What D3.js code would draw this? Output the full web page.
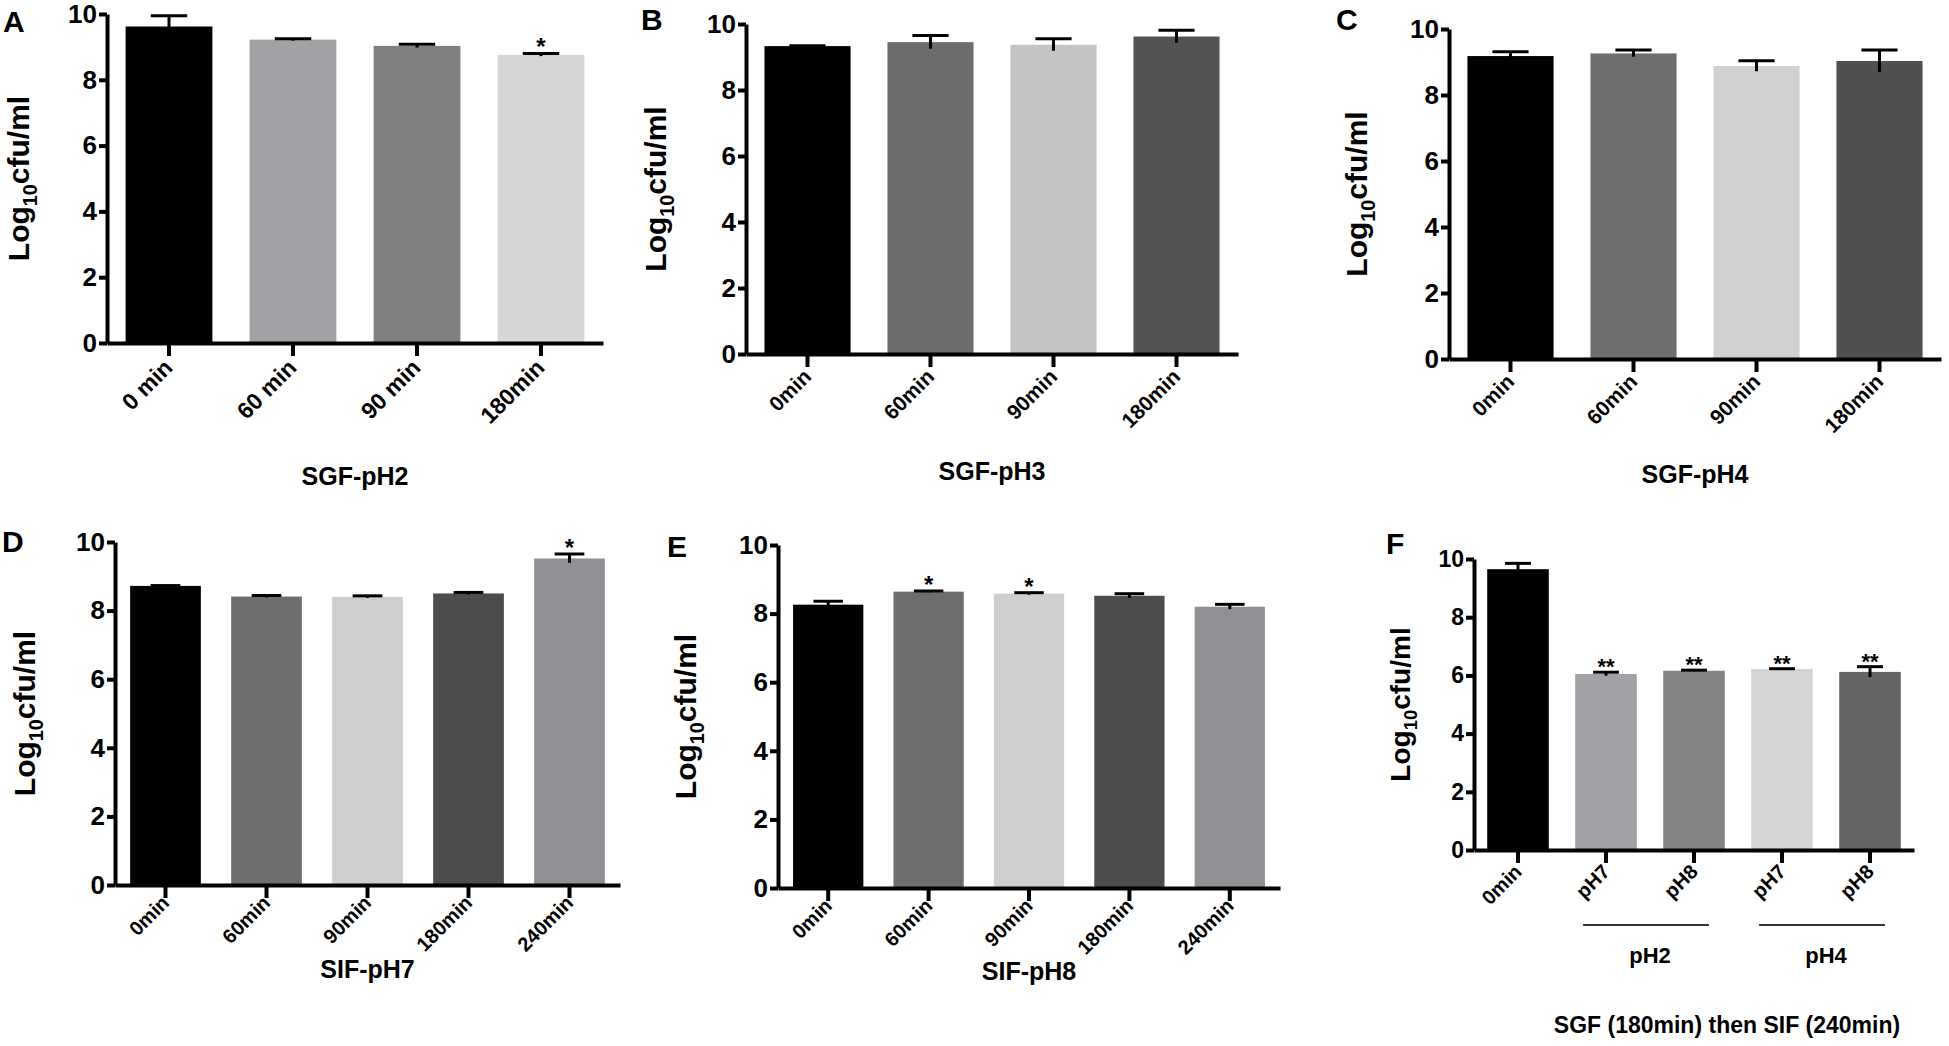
<!DOCTYPE html>
<html>
<head>
<meta charset="utf-8">
<script src="https://cdn.jsdelivr.net/npm/d3@7"></script>
<style>
	body { margin: 0; background: #fff; }
	text { font-family: "Liberation Sans", Arial, Helvetica, sans-serif; font-weight: bold; fill: #000; }
</style>
</head>
<body>
<svg id="chart" width="1949" height="1046"></svg>
<script>
// values (Log10 cfu/ml, mean and SD)
const catsA = ['0 min', '60 min', '90 min', '180min']
const meanA = [9.62, 9.22, 9.03, 8.76]
const sdA = [0.33, 0.03, 0.05, 0.04]
const sigA = ['', '', '', '*']

const catsB = ['0min', '60min', '90min', '180min']
const meanB = [9.33, 9.45, 9.37, 9.62]
const sdB = [0.01, 0.2, 0.18, 0.19]
const sigB = ['', '', '', '']

const catsC = ['0min', '60min', '90min', '180min']
const meanC = [9.18, 9.26, 8.88, 9.03]
const sdC = [0.13, 0.1, 0.16, 0.33]
const sigC = ['', '', '', '']

const catsD = ['0min', '60min', '90min', '180min', '240min']
const meanD = [8.72, 8.41, 8.4, 8.5, 9.52]
const sdD = [0.01, 0.03, 0.03, 0.03, 0.13]
const sigD = ['', '', '', '', '*']

const catsE = ['0min', '60min', '90min', '180min', '240min']
const meanE = [8.26, 8.64, 8.58, 8.52, 8.2]
const sdE = [0.1, 0.02, 0.03, 0.06, 0.07]
const sigE = ['', '*', '*', '', '']

const catsF = ['0min', 'pH7', 'pH8', 'pH7', 'pH8']
const meanF = [9.65, 6.05, 6.16, 6.22, 6.12]
const sdF = [0.2, 0.06, 0.02, 0.01, 0.18]
const sigF = ['', '**', '**', '**', '**']
const groupF = ['pH2', 'pH4']
const groupSpanF = [[1, 2], [3, 4]]

const yTicks = [0, 2, 4, 6, 8, 10]

// fills per panel
const fillsA = ['#000000', '#a2a2a6', '#808080', '#d6d6d6']
const fillsB = ['#000000', '#6d6d6d', '#c4c4c4', '#535353']
const fillsC = ['#000000', '#6f6f6f', '#d0d0d0', '#505050']
const fillsD = ['#000000', '#6e6e6e', '#cecece', '#4d4d4d', '#8f8f94']
const fillsF = ['#000000', '#a2a2a6', '#848484', '#d4d4d4', '#656565']

const svg = d3.select('#chart')

const panels = [
	{ letter: 'A', cats: catsA, mean: meanA, sd: sdA, sig: sigA, fills: fillsA, title: 'SGF-pH2',
		x0: 107, x1: 603, top: 14, zero: 343, titleY: 485, letterXY: [3, 32], labelOff: 78, catFont: 23, catY: 26 },
	{ letter: 'B', cats: catsB, mean: meanB, sd: sdB, sig: sigB, fills: fillsB, title: 'SGF-pH3',
		x0: 746, x1: 1238, top: 24, zero: 354, titleY: 480, letterXY: [641, 30], labelOff: 80, catFont: 21, catY: 24 },
	{ letter: 'C', cats: catsC, mean: meanC, sd: sdC, sig: sigC, fills: fillsC, title: 'SGF-pH4',
		x0: 1449, x1: 1941, top: 29, zero: 359, titleY: 483, letterXY: [1336, 30], labelOff: 82, catFont: 21, catY: 24 },
	{ letter: 'D', cats: catsD, mean: meanD, sd: sdD, sig: sigD, fills: fillsD, title: 'SIF-pH7',
		x0: 115, x1: 620, top: 542, zero: 885, titleY: 978, letterXY: [2, 552], labelOff: 80, catFont: 20, catY: 19 },
	{ letter: 'E', cats: catsE, mean: meanE, sd: sdE, sig: sigE, fills: fillsD, title: 'SIF-pH8',
		x0: 778, x1: 1280, top: 545, zero: 888, titleY: 980, letterXY: [667, 557], labelOff: 82, catFont: 20, catY: 19 },
	{ letter: 'F', cats: catsF, mean: meanF, sd: sdF, sig: sigF, fills: fillsF, title: null,
		x0: 1474, x1: 1914, top: 559, zero: 850, letterXY: [1386, 554], labelOff: 64, catFont: 20, catY: 23, small: true },
]

function drawPanel(p) {
	const g = svg.append('g').attr('class', `panel panel-${p.letter}`)
	const tickFont = p.small ? 23 : 26

	const x = d3.scaleBand()
		.domain(p.cats.map((d, i) => i))
		.range([p.x0, p.x1])
		.paddingInner(0.3)
		.paddingOuter(0.15)

	const y = d3.scaleLinear()
		.domain([0, 10])
		.range([p.zero, p.top])

	const bw = x.bandwidth()
	const capW = bw * 0.42

	// bars
	g.selectAll('.bar').data(p.mean)
		.enter().append('rect')
		.attr('class', 'bar')
		.attr('x', (d, i) => x(i))
		.attr('y', d => y(d))
		.attr('width', bw)
		.attr('height', d => y(0) - y(d))
		.attr('fill', (d, i) => p.fills[i])

	// error bars (stem through the mean, cap on top only)
	const err = g.selectAll('.err').data(p.mean)
		.enter().append('g')
		.attr('class', 'err')
		.attr('stroke', '#000')
		.attr('stroke-width', 3)

	err.append('line')
		.attr('x1', (d, i) => x(i) + bw / 2)
		.attr('x2', (d, i) => x(i) + bw / 2)
		.attr('y1', (d, i) => y(d - p.sd[i]))
		.attr('y2', (d, i) => y(d + p.sd[i]))

	err.append('line')
		.attr('x1', (d, i) => x(i) + bw / 2 - capW / 2)
		.attr('x2', (d, i) => x(i) + bw / 2 + capW / 2)
		.attr('y1', (d, i) => y(d + p.sd[i]))
		.attr('y2', (d, i) => y(d + p.sd[i]))

	// significance marks
	g.selectAll('.sig').data(p.mean)
		.enter().append('text')
		.attr('class', 'sig')
		.attr('x', (d, i) => x(i) + bw / 2)
		.attr('y', (d, i) => y(d + p.sd[i]) + 2)
		.attr('text-anchor', 'middle')
		.style('font-size', `${p.small ? 22 : 24}px`)
		.text((d, i) => p.sig[i])

	// y axis
	const yAxis = g.append('g')
		.attr('transform', `translate(${p.x0},0)`)
		.call(d3.axisLeft(y).tickValues(yTicks).tickSize(8).tickSizeOuter(0).tickPadding(2))
	yAxis.selectAll('line').attr('stroke', '#000').attr('stroke-width', 4)
	yAxis.select('.domain').attr('stroke', '#000').attr('stroke-width', 4)
	yAxis.selectAll('text')
		.style('font-size', `${tickFont}px`)
		.attr('fill', '#000')

	// x axis
	const xAxis = g.append('g')
		.attr('transform', `translate(0,${p.zero})`)
		.call(d3.axisBottom(x).tickSize(13).tickSizeOuter(0).tickFormat(i => p.cats[i]))
	xAxis.selectAll('line').attr('stroke', '#000').attr('stroke-width', 4)
	xAxis.select('.domain').attr('stroke', '#000').attr('stroke-width', 4)
	xAxis.selectAll('text')
		.attr('x', 0).attr('y', 0).attr('dy', null)
		.attr('text-anchor', 'end')
		.attr('transform', `translate(5,${p.catY}) rotate(-45)`)
		.style('font-size', `${p.catFont}px`)
		.attr('fill', '#000')

	// y label with subscript
	const cy = (p.zero + p.top) / 2
	const fs = p.small ? 28 : 30
	const yl = g.append('text')
		.attr('transform', `translate(${p.x0 - p.labelOff},${cy}) rotate(-90)`)
		.attr('text-anchor', 'middle')
		.style('font-size', `${fs}px`)
	yl.append('tspan').text('Log')
	yl.append('tspan').attr('dy', fs * 0.25).style('font-size', `${fs * 0.66}px`).text('10')
	yl.append('tspan').attr('dy', -fs * 0.25).text('cfu/ml')

	// panel letter
	g.append('text')
		.attr('x', p.letterXY[0])
		.attr('y', p.letterXY[1])
		.style('font-size', '30px')
		.text(p.letter)

	if (p.title) {
		g.append('text')
			.attr('x', (p.x0 + p.x1) / 2)
			.attr('y', p.titleY)
			.attr('text-anchor', 'middle')
			.style('font-size', '25px')
			.text(p.title)
	}

	return { g, x, y, bw }
}

const drawn = panels.map(drawPanel)

// extra grouping under panel F
const pf = panels[5]
const f = drawn[5]
const step = f.x.step()
groupF.forEach((label, k) => {
	const [a, b] = groupSpanF[k]
	const ca = f.x(a) + f.bw / 2
	const cb = f.x(b) + f.bw / 2
	f.g.append('line')
		.attr('x1', ca - step * 0.26)
		.attr('x2', cb + step * 0.17)
		.attr('y1', pf.zero + 75)
		.attr('y2', pf.zero + 75)
		.attr('stroke', '#333')
		.attr('stroke-width', 2)
	f.g.append('text')
		.attr('x', (ca + cb) / 2)
		.attr('y', pf.zero + 113)
		.attr('text-anchor', 'middle')
		.style('font-size', '22px')
		.text(label)
})

f.g.append('text')
	.attr('x', (pf.x0 + pf.x1) / 2 + 33)
	.attr('y', pf.zero + 183)
	.attr('text-anchor', 'middle')
	.style('font-size', '23px')
	.text('SGF (180min) then SIF (240min)')
</script>
</body>
</html>
